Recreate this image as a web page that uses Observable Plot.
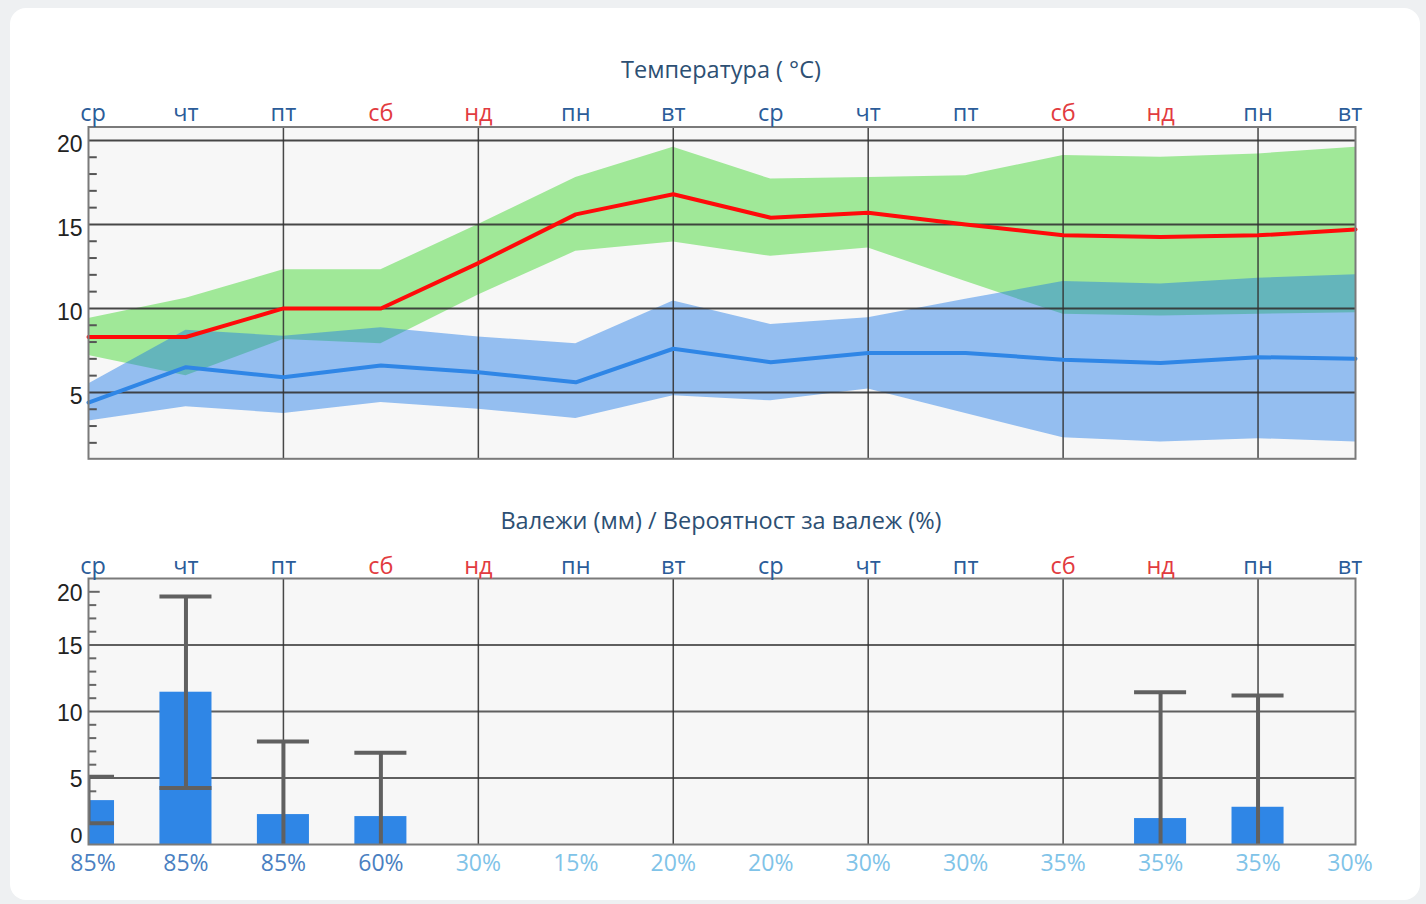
<!DOCTYPE html>
<html>
<head>
<meta charset="utf-8">
<script src="https://cdn.jsdelivr.net/npm/d3@7"></script>
<script src="https://cdn.jsdelivr.net/npm/@observablehq/plot@0.6"></script>
<style>
  html, body { margin: 0; padding: 0; background: #eef0f2; width: 1426px; height: 904px; overflow: hidden; }
  .card { position: absolute; left: 10px; top: 8px; width: 1410px; height: 892px; background: #fff; border-radius: 16px; }
  .title { position: absolute; left: 0; width: 1442px; text-align: center; font-family: "Open Sans", "Noto Sans", sans-serif; font-size: 23.5px; color: #2d4f73; line-height: 30px; }
  .chart { position: absolute; left: 0; }
  svg { overflow: visible; }
</style>
</head>
<body>
<div class="card"></div>
<div class="title" style="top:54px">Температура ( °C)</div>
<div class="chart" id="temp" style="top:90px"></div>
<div class="title" style="top:505px">Валежи (мм) / Вероятност за валеж (%)</div>
<div class="chart" id="precip" style="top:545px"></div>
<script>
// ---- data ----
const days = ["ср","чт","пт","сб","нд","пн","вт","ср","чт","пт","сб","нд","пн","вт"];
const weekendDays = ["сб","нд"];
const tMax     = [8.3, 8.3, 10.0, 10.0, 12.7, 15.6, 16.8, 15.4, 15.7, 15.0, 14.35, 14.25, 14.35, 14.7];
const tMaxHigh = [9.4, 10.6, 12.3, 12.3, 15.0, 17.8, 19.6, 17.7, 17.8, 17.9, 19.1, 19.0, 19.2, 19.6];
const tMaxLow  = [7.2, 6.0, 8.15, 7.9, 10.8, 13.4, 13.95, 13.1, 13.6, 11.6, 9.65, 9.55, 9.65, 9.75];
const tMin     = [4.4, 6.5, 5.9, 6.6, 6.2, 5.6, 7.6, 6.8, 7.35, 7.35, 6.95, 6.75, 7.1, 7.0];
const tMinHigh = [5.5, 8.7, 8.35, 8.85, 8.3, 7.9, 10.45, 9.05, 9.45, 10.55, 11.6, 11.45, 11.8, 12.0];
const tMinLow  = [3.3, 4.15, 3.75, 4.4, 4.0, 3.45, 4.8, 4.5, 5.2, 3.75, 2.3, 2.05, 2.25, 2.05];
const precip     = [3.3, 11.45, 2.25, 2.1, 0, 0, 0, 0, 0, 0, 0, 1.95, 2.8, 0];
const precipLow  = [1.6, 4.25, 0, 0, null, null, null, null, null, null, null, 0, 0, null];
const precipHigh = [5.1, 18.65, 7.75, 6.9, null, null, null, null, null, null, null, 11.45, 11.2, null];
const probability = [85, 85, 85, 60, 30, 15, 20, 20, 30, 30, 35, 35, 35, 30];
const tempTicks = [5, 10, 15, 20];
const tempMinorTicks = [2, 3, 4, 6, 7, 8, 9, 11, 12, 13, 14, 16, 17, 18, 19];
const precipTickValues = [5, 10, 15, 19];
const precipTickLabels = ["5", "10", "15", "20"];
const precipZeroTick = [0];
const precipGrid = [5, 10, 15];
const precipMinorTicks = [1,2,3,4,6,7,8,9,11,12,13,14,16,17,18];
const dayGrid = [2, 4, 6, 8, 10, 12];

// ---- table ----
const rows = days.map((day, i) => ({
  i, day,
  tMax: tMax[i], tMaxHigh: tMaxHigh[i], tMaxLow: tMaxLow[i],
  tMin: tMin[i], tMinHigh: tMinHigh[i], tMinLow: tMinLow[i],
  precip: precip[i], low: precipLow[i], high: precipHigh[i], prob: probability[i]
}));
const wet = rows.filter(d => d.precip > 0);
const errs = rows.filter(d => d.high != null);
const lowCaps = errs.filter(d => d.low > 0);

const dayColor = d => weekendDays.includes(d.day) ? "#e23b40" : "#2b5c99";
const probColor = d => d.prob >= 50 ? "#4a7fc1" : "#80c3e8";
const barHalf = 0.267;
const dayFont = "'Open Sans', 'Noto Sans', sans-serif";
const numFont = "'Liberation Sans', Arial, sans-serif";

// labels along the frame edge; the first and last are nudged inward as in the reference
function edgeLabels(opts) {
  const last = rows.length - 1;
  return [
    Plot.text(rows.filter(d => d.i === 0), {...opts, dx: 4.5}),
    Plot.text(rows.filter(d => d.i > 0 && d.i < last), opts),
    Plot.text(rows.filter(d => d.i === last), {...opts, dx: -5.5})
  ];
}

// ---- temperature ----
const temp = Plot.plot({
  width: 1426, height: 380,
  marginLeft: 88, marginRight: 71, marginTop: 36.5, marginBottom: 11.7,
  x: {domain: [0, 13], axis: null},
  y: {domain: [1.05, 20.8], axis: null},
  color: {type: "identity"},
  style: {fontFamily: dayFont, background: "transparent"},
  marks: [
    Plot.frame({fill: "#f7f7f7", stroke: "none"}),
    Plot.areaY(rows, {x: "i", y1: "tMaxLow", y2: "tMaxHigh", fill: "#a0e898"}),
    Plot.areaY(rows, {x: "i", y1: "tMinLow", y2: "tMinHigh", fill: "#1a78e7", fillOpacity: 0.45}),
    Plot.ruleY(tempTicks, {y: d => d, stroke: "#333", strokeWidth: 2, strokeOpacity: 0.9}),
    Plot.ruleX(dayGrid, {x: d => d, stroke: "#333", strokeWidth: 1.5, strokeOpacity: 0.9}),
    Plot.ruleY(tempMinorTicks, {y: d => d, x1: 0, x2: 0.09, stroke: "#555", strokeWidth: 2}),
    Plot.lineY(rows, {x: "i", y: "tMin", stroke: "#2f86e6", strokeWidth: 4}),
    Plot.lineY(rows, {x: "i", y: "tMax", stroke: "#ff0a0a", strokeWidth: 4}),
    Plot.frame({stroke: "#7a7a7a", strokeWidth: 2}),
    ...edgeLabels({x: "i", text: "day", frameAnchor: "top", lineAnchor: "middle", dy: -14, fill: dayColor, fontSize: 23.5}),
    Plot.text(tempTicks, {y: d => d, text: d => String(d), frameAnchor: "left", textAnchor: "end", lineAnchor: "middle", dx: -6, dy: 4, fontSize: 23, fill: "#222", fontFamily: numFont})
  ]
});
document.getElementById("temp").append(temp);

// ---- precipitation ----
const pr = Plot.plot({
  width: 1426, height: 334,
  marginLeft: 88, marginRight: 71, marginTop: 33, marginBottom: 35,
  x: {domain: [0, 13], axis: null},
  y: {domain: [0, 20], axis: null},
  color: {type: "identity"},
  style: {fontFamily: dayFont, background: "transparent"},
  marks: [
    Plot.frame({fill: "#f7f7f7", stroke: "none"}),
    Plot.ruleY(precipGrid, {y: d => d, stroke: "#444", strokeWidth: 2, strokeOpacity: 0.85}),
    Plot.ruleX(dayGrid, {x: d => d, stroke: "#333", strokeWidth: 1.5, strokeOpacity: 0.9}),
    Plot.ruleY(precipMinorTicks, {y: d => d, x1: 0, x2: 0.085, stroke: "#666", strokeWidth: 2}),
    Plot.ruleY([19], {y: d => d, x1: 0, x2: 0.12, stroke: "#666", strokeWidth: 2}),
    Plot.rectY(wet, {x1: d => d.i - barHalf, x2: d => d.i + barHalf, y1: 0, y2: "precip", fill: "#2f86e6", clip: true}),
    Plot.ruleX(errs, {x: "i", y1: "low", y2: "high", stroke: "#606060", strokeWidth: 4, clip: true}),
    Plot.ruleY(errs, {y: "high", x1: d => d.i - barHalf, x2: d => d.i + barHalf, stroke: "#606060", strokeWidth: 4, clip: true}),
    Plot.ruleY(lowCaps, {y: "low", x1: d => d.i - barHalf, x2: d => d.i + barHalf, stroke: "#606060", strokeWidth: 4, clip: true}),
    Plot.frame({stroke: "#7a7a7a", strokeWidth: 2}),
    ...edgeLabels({x: "i", text: "day", frameAnchor: "top", lineAnchor: "middle", dy: -12, fill: dayColor, fontSize: 23.5}),
    ...edgeLabels({x: "i", text: d => d.prob + "%", frameAnchor: "bottom", lineAnchor: "middle", dy: 19, fill: probColor, fontSize: 23}),
    Plot.text(precipTickValues, {y: d => d, text: (d, i) => precipTickLabels[i], frameAnchor: "left", textAnchor: "end", lineAnchor: "middle", dx: -6, dy: 2, fontSize: 23, fill: "#222", fontFamily: numFont}),
    Plot.text(precipZeroTick, {y: d => d, text: d => String(d), frameAnchor: "left", textAnchor: "end", lineAnchor: "middle", dx: -6, dy: -9, fontSize: 22, fill: "#222", fontFamily: numFont})
  ]
});
document.getElementById("precip").append(pr);
</script>
</body>
</html>
